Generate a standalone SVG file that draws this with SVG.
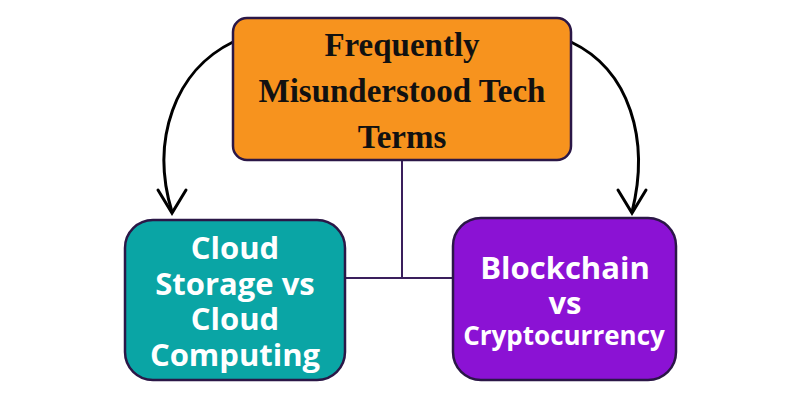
<svg xmlns="http://www.w3.org/2000/svg" width="800" height="400" viewBox="0 0 800 400">
<style>
.box{stroke:#2b1747;stroke-width:2.5}
.t1{font-family:"Liberation Serif",serif;font-weight:bold;font-size:33px;fill:#111;text-anchor:middle}
.t2{font-family:"Open Sans","Noto Sans",sans-serif;font-weight:bold;font-size:31px;fill:#fff;text-anchor:middle}
.ln{stroke:#3a1f5c;stroke-width:2;fill:none}
.ar{stroke:#000;stroke-width:3;fill:none;stroke-linecap:round}
</style>
<rect width="800" height="400" fill="#fff"/>
<g id="connectors">
<path class="ln" d="M402 160V278M345 278H453"/>
<path class="ar" d="M233 42C175 70 150 140 172 212"/>
<path class="ar" d="M158 190L172 213L186 190"/>
<path class="ar" d="M571 42C630 70 650 140 632 212"/>
<path class="ar" d="M618 190L632 213L646 190"/>
</g>
<g id="top">
<rect class="box" x="233" y="18" width="338" height="142" rx="14" fill="#f7931e"/>
<text class="t1" x="402" y="56">Frequently</text>
<text class="t1" x="402" y="102">Misunderstood Tech</text>
<text class="t1" x="402" y="148">Terms</text>
</g>
<g id="left">
<rect class="box" x="125" y="220" width="220" height="160" rx="28" fill="#0aa5a5"/>
<text class="t2" x="235" y="259">Cloud</text>
<text class="t2" x="235" y="295">Storage vs</text>
<text class="t2" x="235" y="330">Cloud</text>
<text class="t2" x="235" y="366">Computing</text>
</g>
<g id="right">
<rect class="box" x="453" y="218" width="223" height="162" rx="28" fill="#8b12d4"/>
<text class="t2" x="565" y="279">Blockchain</text>
<text class="t2" x="565" y="314">vs</text>
<text class="t2" x="564" y="345" style="font-size:26px">Cryptocurrency</text>
</g>
</svg>
